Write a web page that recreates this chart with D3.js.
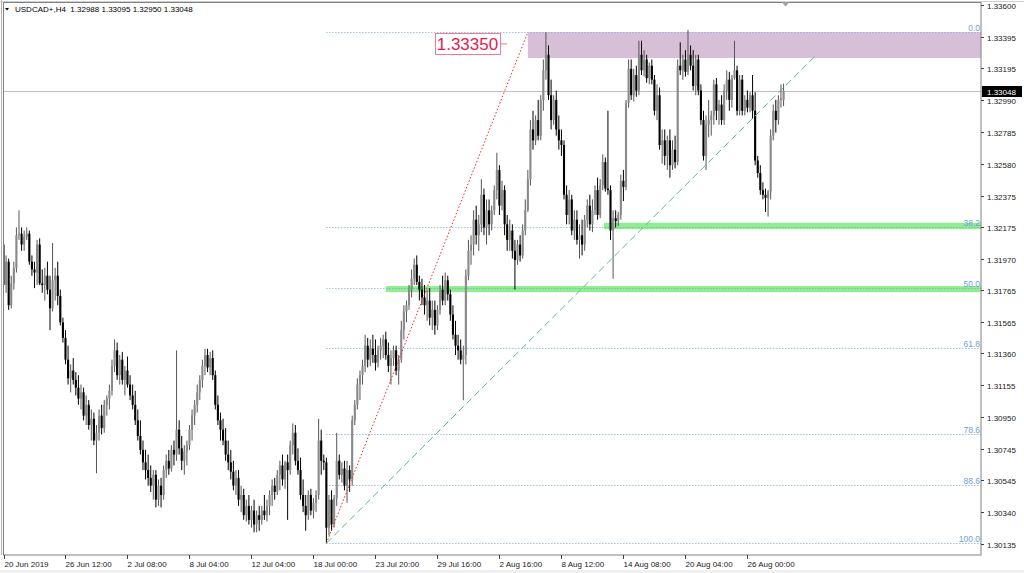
<!DOCTYPE html>
<html><head><meta charset="utf-8">
<script src="https://cdnjs.cloudflare.com/ajax/libs/d3/7.8.5/d3.min.js"></script>
<style>html,body{margin:0;padding:0;background:#fff;overflow:hidden}</style>
</head><body>
<svg id="c" width="1024" height="573"></svg>
<script>
const headerText = "USDCAD+,H4  1.32988 1.33095 1.32950 1.33048";

const open = [
1.3206,1.3180,1.3195,1.3167,1.3181,1.3191,1.3212,1.3213,1.3206,1.3211,
1.3213,1.3195,1.3190,1.3188,1.3206,1.3181,1.3180,1.3186,1.3177,1.3165,
1.3183,1.3186,1.3173,1.3156,1.3146,1.3132,1.3120,1.3125,1.3119,1.3114,
1.3107,1.3111,1.3096,1.3103,1.3090,1.3094,1.3080,1.3085,1.3096,1.3088,
1.3103,1.3107,1.3112,1.3128,1.3138,1.3122,1.3132,1.3119,1.3125,1.3116,
1.3109,1.3103,1.3093,1.3083,1.3074,1.3066,1.3061,1.3056,1.3051,1.3058,
1.3042,1.3051,1.3045,1.3061,1.3067,1.3062,1.3074,1.3071,1.3087,1.3075,
1.3067,1.3073,1.3077,1.3087,1.3096,1.3103,1.3111,1.3119,1.3128,1.3135,
1.3127,1.3133,1.3122,1.3103,1.3093,1.3087,1.3080,1.3071,1.3066,1.3060,
1.3051,1.3056,1.3042,1.3045,1.3032,1.3038,1.3029,1.3035,1.3026,1.3032,
1.3029,1.3035,1.3032,1.3038,1.3045,1.3051,1.3047,1.3058,1.3064,1.3055,
1.3066,1.3061,1.3077,1.3085,1.3067,1.3061,1.3045,1.3038,1.3032,1.3045,
1.3035,1.3040,1.3045,1.3080,1.3067,1.3066,1.3024,1.3042,1.3026,1.3043,
1.3067,1.3058,1.3062,1.3051,1.3061,1.3055,1.3093,1.3103,1.3116,1.3122,
1.3128,1.3141,1.3132,1.3139,1.3135,1.3130,1.3138,1.3141,1.3145,1.3135,
1.3128,1.3133,1.3138,1.3125,1.3132,1.3151,1.3163,1.3167,1.3177,1.3184,
1.3193,1.3182,1.3177,1.3172,1.3167,1.3170,1.3159,1.3164,1.3154,1.3164,
1.3177,1.3170,1.3183,1.3174,1.3161,1.3148,1.3141,1.3138,1.3132,1.3135,
1.3186,1.3202,1.3206,1.3222,1.3212,1.3219,1.3238,1.3217,1.3228,1.3219,
1.3228,1.3241,1.3254,1.3231,1.3241,1.3219,1.3209,1.3215,1.3202,1.3196,
1.3206,1.3199,1.3215,1.3228,1.3248,1.3280,1.3273,1.3286,1.3276,1.3299,
1.3318,1.3328,1.3302,1.3286,1.3299,1.3280,1.3273,1.3270,1.3238,1.3225,
1.3235,1.3215,1.3222,1.3209,1.3212,1.3206,1.3222,1.3231,1.3219,1.3228,
1.3241,1.3225,1.3244,1.3259,1.3242,1.3241,1.3215,1.3223,1.3221,1.3225,
1.3247,1.3243,1.3297,1.3319,1.3302,1.3315,1.3305,1.3328,1.3318,1.3325,
1.3313,1.3321,1.3312,1.3292,1.3302,1.3270,1.3273,1.3263,1.3273,1.3257,
1.3267,1.3259,1.3321,1.3318,1.3325,1.3317,1.3328,1.3321,1.3308,1.3325,
1.3305,1.3286,1.3263,1.3283,1.3286,1.3289,1.3309,1.3292,1.3296,1.3286,
1.3305,1.3312,1.3299,1.3313,1.3318,1.3292,1.3312,1.3292,1.3299,1.3294,
1.3302,1.3292,1.3260,1.3252,1.3241,1.3238,1.3236,1.3240,1.3276,1.3292,
1.3286,1.3299,1.32988];

const high = [
1.3220,1.3199,1.3197,1.3186,1.3195,1.3217,1.3228,1.3217,1.3215,1.3217,
1.3215,1.3199,1.3195,1.3209,1.3210,1.3190,1.3191,1.3195,1.3186,1.3207,
1.3191,1.3195,1.3177,1.3159,1.3151,1.3141,1.3129,1.3133,1.3124,1.3122,
1.3116,1.3114,1.3109,1.3106,1.3100,1.3098,1.3090,1.3100,1.3103,1.3106,
1.3109,1.3116,1.3132,1.3145,1.3143,1.3135,1.3137,1.3128,1.3134,1.3122,
1.3116,1.3112,1.3100,1.3093,1.3080,1.3074,1.3071,1.3064,1.3061,1.3061,
1.3055,1.3056,1.3064,1.3071,1.3074,1.3077,1.3080,1.3138,1.3093,1.3083,
1.3077,1.3080,1.3090,1.3100,1.3106,1.3116,1.3122,1.3132,1.3139,1.3139,
1.3137,1.3138,1.3125,1.3109,1.3098,1.3094,1.3088,1.3080,1.3074,1.3067,
1.3061,1.3061,1.3051,1.3049,1.3042,1.3045,1.3038,1.3042,1.3035,1.3038,
1.3038,1.3045,1.3042,1.3048,1.3055,1.3056,1.3061,1.3067,1.3071,1.3067,
1.3071,1.3080,1.3091,1.3090,1.3075,1.3069,1.3055,1.3045,1.3048,1.3049,
1.3043,1.3048,1.3094,1.3087,1.3071,1.3069,1.3045,1.3048,1.3045,1.3085,
1.3071,1.3066,1.3067,1.3067,1.3064,1.3096,1.3106,1.3120,1.3125,1.3132,
1.3148,1.3146,1.3145,1.3148,1.3145,1.3141,1.3146,1.3148,1.3150,1.3143,
1.3138,1.3141,1.3141,1.3135,1.3157,1.3167,1.3170,1.3180,1.3190,1.3197,
1.3199,1.3186,1.3184,1.3180,1.3177,1.3178,1.3170,1.3170,1.3167,1.3180,
1.3186,1.3188,1.3186,1.3177,1.3167,1.3157,1.3148,1.3145,1.3141,1.3190,
1.3209,1.3212,1.3228,1.3231,1.3225,1.3248,1.3242,1.3235,1.3235,1.3231,
1.3244,1.3265,1.3257,1.3247,1.3244,1.3225,1.3222,1.3219,1.3209,1.3209,
1.3212,1.3219,1.3235,1.3254,1.3286,1.3292,1.3289,1.3299,1.3302,1.3325,
1.33425,1.3334,1.3312,1.3302,1.3305,1.3289,1.3280,1.3273,1.3244,1.3241,
1.3238,1.3228,1.3228,1.3219,1.3222,1.3225,1.3235,1.3238,1.3235,1.3244,
1.3249,1.3248,1.3264,1.3262,1.3292,1.3244,1.3228,1.3228,1.3227,1.3251,
1.3254,1.3299,1.3325,1.3325,1.3319,1.3321,1.3337,1.3337,1.3331,1.3328,
1.3323,1.3325,1.3315,1.3309,1.3307,1.3280,1.3280,1.3276,1.3280,1.3273,
1.3276,1.3325,1.3336,1.3328,1.3331,1.3344,1.3334,1.3331,1.3328,1.3328,
1.3309,1.3292,1.3289,1.3299,1.3292,1.3312,1.3313,1.3299,1.3302,1.3309,
1.3318,1.3317,1.3315,1.3337,1.3321,1.3315,1.3315,1.3302,1.3305,1.3304,
1.3315,1.3304,1.3263,1.3257,1.3246,1.3242,1.3241,1.3280,1.3296,1.3299,
1.3302,1.3309,1.33095];

const low = [
1.3174,1.3175,1.3164,1.3165,1.3177,1.3188,1.3209,1.3202,1.3202,1.3209,
1.3193,1.3186,1.3178,1.3180,1.3180,1.3175,1.3170,1.3174,1.3151,1.3163,
1.3170,1.3167,1.3154,1.3143,1.3129,1.3116,1.3111,1.3116,1.3109,1.3103,
1.3100,1.3093,1.3090,1.3087,1.3080,1.3077,1.3059,1.3080,1.3084,1.3085,
1.3096,1.3100,1.3109,1.3124,1.3119,1.3116,1.3116,1.3109,1.3114,1.3106,
1.3100,1.3090,1.3080,1.3071,1.3061,1.3055,1.3051,1.3047,1.3042,1.3037,
1.3038,1.3037,1.3042,1.3056,1.3058,1.3060,1.3064,1.3067,1.3071,1.3061,
1.3058,1.3064,1.3074,1.3080,1.3090,1.3098,1.3106,1.3114,1.3122,1.3124,
1.3122,1.3119,1.3100,1.3090,1.3080,1.3077,1.3067,1.3061,1.3055,1.3048,
1.3045,1.3038,1.3034,1.3029,1.3028,1.3026,1.3024,1.3021,1.3021,1.3022,
1.3026,1.3029,1.3028,1.3032,1.3038,1.3042,1.3045,1.3048,1.3051,1.3049,
1.3029,1.3058,1.3071,1.3064,1.3058,1.3042,1.3034,1.3022,1.3029,1.3032,
1.3030,1.3034,1.3042,1.3058,1.3061,1.3014,1.3019,1.3022,1.3024,1.3038,
1.3055,1.3053,1.3048,1.3040,1.3047,1.3051,1.3090,1.3100,1.3106,1.3116,
1.3124,1.3127,1.3128,1.3130,1.3125,1.3127,1.3132,1.3133,1.3132,1.3124,
1.3116,1.3128,1.3122,1.3116,1.3130,1.3145,1.3156,1.3164,1.3172,1.3180,
1.3180,1.3170,1.3167,1.3161,1.3157,1.3154,1.3151,1.3148,1.3151,1.3161,
1.3167,1.3167,1.3170,1.3157,1.3145,1.3135,1.3132,1.3129,1.3106,1.3129,
1.3183,1.3193,1.3199,1.3206,1.3202,1.3214,1.3212,1.3206,1.3212,1.3215,
1.3225,1.3235,1.3225,1.3228,1.3212,1.3202,1.3202,1.3197,1.3177,1.3193,
1.3195,1.3197,1.3212,1.3227,1.3244,1.3267,1.3270,1.3273,1.3273,1.3292,
1.3312,1.3299,1.3280,1.3283,1.3276,1.3267,1.3263,1.3235,1.3219,1.3219,
1.3212,1.3209,1.3206,1.3197,1.3199,1.3202,1.3217,1.3215,1.3214,1.3225,
1.3222,1.3223,1.3241,1.3240,1.3238,1.3209,1.3184,1.3217,1.3218,1.3222,
1.3234,1.3241,1.3294,1.3299,1.3298,1.3301,1.3302,1.3315,1.3314,1.3310,
1.3309,1.3309,1.3289,1.3286,1.3267,1.3258,1.3257,1.3254,1.3249,1.3254,
1.3255,1.3257,1.3315,1.3312,1.3314,1.3315,1.3318,1.3305,1.3302,1.3302,
1.3283,1.3260,1.3254,1.3275,1.3276,1.3283,1.3286,1.3283,1.3283,1.3283,
1.3299,1.3292,1.3294,1.3312,1.3289,1.3289,1.3289,1.3289,1.3291,1.3291,
1.3287,1.3257,1.3249,1.3238,1.3235,1.3227,1.3224,1.3235,1.3273,1.3278,
1.3283,1.3294,1.32950];

const close = [
1.3180,1.3195,1.3167,1.3181,1.3191,1.3212,1.3213,1.3206,1.3211,1.3213,
1.3195,1.3190,1.3188,1.3206,1.3181,1.3180,1.3186,1.3177,1.3165,1.3183,
1.3186,1.3173,1.3156,1.3146,1.3132,1.3120,1.3125,1.3119,1.3114,1.3107,
1.3111,1.3096,1.3103,1.3090,1.3094,1.3080,1.3085,1.3096,1.3088,1.3103,
1.3107,1.3112,1.3128,1.3138,1.3122,1.3132,1.3119,1.3125,1.3116,1.3109,
1.3103,1.3093,1.3083,1.3074,1.3066,1.3061,1.3056,1.3051,1.3058,1.3042,
1.3051,1.3045,1.3061,1.3067,1.3062,1.3074,1.3071,1.3087,1.3075,1.3067,
1.3073,1.3077,1.3087,1.3096,1.3103,1.3111,1.3119,1.3128,1.3135,1.3127,
1.3133,1.3122,1.3103,1.3093,1.3087,1.3080,1.3071,1.3066,1.3060,1.3051,
1.3056,1.3042,1.3045,1.3032,1.3038,1.3029,1.3035,1.3026,1.3032,1.3029,
1.3035,1.3032,1.3038,1.3045,1.3051,1.3047,1.3058,1.3064,1.3055,1.3066,
1.3061,1.3077,1.3085,1.3067,1.3061,1.3045,1.3038,1.3032,1.3045,1.3035,
1.3040,1.3045,1.3080,1.3067,1.3066,1.3024,1.3042,1.3026,1.3043,1.3067,
1.3058,1.3062,1.3051,1.3061,1.3055,1.3093,1.3103,1.3116,1.3122,1.3128,
1.3141,1.3132,1.3139,1.3135,1.3130,1.3138,1.3141,1.3145,1.3135,1.3128,
1.3133,1.3138,1.3125,1.3132,1.3151,1.3163,1.3167,1.3177,1.3184,1.3193,
1.3182,1.3177,1.3172,1.3167,1.3170,1.3159,1.3164,1.3154,1.3164,1.3177,
1.3170,1.3183,1.3174,1.3161,1.3148,1.3141,1.3138,1.3132,1.3135,1.3186,
1.3202,1.3206,1.3222,1.3212,1.3219,1.3238,1.3217,1.3228,1.3219,1.3228,
1.3241,1.3254,1.3231,1.3241,1.3219,1.3209,1.3215,1.3202,1.3196,1.3206,
1.3199,1.3215,1.3228,1.3248,1.3280,1.3273,1.3286,1.3276,1.3299,1.3318,
1.3328,1.3302,1.3286,1.3299,1.3280,1.3273,1.3270,1.3238,1.3225,1.3235,
1.3215,1.3222,1.3209,1.3212,1.3206,1.3222,1.3231,1.3219,1.3228,1.3241,
1.3225,1.3244,1.3259,1.3242,1.3241,1.3215,1.3223,1.3221,1.3225,1.3247,
1.3243,1.3297,1.3319,1.3302,1.3315,1.3305,1.3328,1.3318,1.3325,1.3313,
1.3321,1.3312,1.3292,1.3302,1.3270,1.3273,1.3263,1.3273,1.3257,1.3267,
1.3259,1.3321,1.3318,1.3325,1.3317,1.3328,1.3321,1.3308,1.3325,1.3305,
1.3286,1.3263,1.3283,1.3286,1.3289,1.3309,1.3292,1.3296,1.3286,1.3305,
1.3312,1.3299,1.3313,1.3318,1.3292,1.3312,1.3292,1.3299,1.3294,1.3302,
1.3292,1.3260,1.3252,1.3241,1.3238,1.3236,1.3240,1.3276,1.3292,1.3286,
1.3299,1.3300,1.33048];

const timeLabels = ["20 Jun 2019","26 Jun 12:00","2 Jul 08:00","8 Jul 04:00","12 Jul 04:00","18 Jul 00:00","23 Jul 20:00","29 Jul 16:00","2 Aug 16:00","8 Aug 12:00","14 Aug 08:00","20 Aug 04:00","26 Aug 00:00"];
const timeLabelBars = [0,24,48,72,96,120,144,168,192,216,240,264,288];
const priceTicks = [1.33600,1.33395,1.33195,1.32990,1.32785,1.32580,1.32375,1.32175,1.31970,1.31765,1.31565,1.31360,1.31155,1.30950,1.30745,1.30545,1.30340,1.30135];

const fibLevels = [0, 38.2, 50, 61.8, 78.6, 88.6, 100];
const fibBars = [125, 203];
const fibPrices = [1.30140, 1.33425];
const trendBars = [125, 314];
const trendPrices = [1.30140, 1.33268];
const zoneBar = 203;
const zonePrices = [1.33425, 1.33259];
const bandBars = [232.5, 148];
const bandTops = [1.32200, 1.31793];
const bandBottoms = [1.32159, 1.31754];
const noteValue = 1.33350;
const noteBar = 195;
const lastPrice = 1.33048;
const visibleBars = 378;

const svg = d3.select("#c");
const L = 3, T = 3, R = 981, B = 555;
const x = d3.scaleLinear().domain([0, visibleBars]).range([3.5, 3.5 + visibleBars * 2.583]);
const y = d3.scaleLinear().domain([1.30135, 1.33600]).range([544, 5]);
const FONT = "'Liberation Sans', Arial, sans-serif";

svg.append("rect").attr("width",1024).attr("height",573).attr("fill","#fff");
svg.append("rect").attr("x",0).attr("y",570).attr("width",1024).attr("height",3).attr("fill","#f0f0f0");

svg.append("defs").append("clipPath").attr("id","clip")
  .append("rect").attr("x",L).attr("y",T).attr("width",R-L).attr("height",B-T);
const plot = svg.append("g").attr("clip-path","url(#clip)");

// zone and bands
plot.append("rect").attr("x", x(zoneBar)).attr("y", y(zonePrices[0]))
  .attr("width", R - x(zoneBar)).attr("height", y(zonePrices[1]) - y(zonePrices[0]))
  .attr("fill", "#d8bfd8");
bandBars.forEach((b,i)=>{
  plot.append("rect").attr("x", x(b)).attr("y", y(bandTops[i]))
    .attr("width", R - x(b)).attr("height", y(bandBottoms[i]) - y(bandTops[i]))
    .attr("fill", "#90ee90");
});

// fib levels
const fibRange = fibPrices[1] - fibPrices[0];
fibLevels.forEach(lv=>{
  const p = fibPrices[1] - fibRange * lv / 100;
  const yy = Math.round(y(p)) + 0.5;
  plot.append("line").attr("x1", x(fibBars[0])).attr("x2", R).attr("y1", yy).attr("y2", yy)
    .attr("stroke", "#6f9fd6").attr("stroke-width", 1).attr("stroke-dasharray", "1,2");
  svg.append("text").attr("x", 980).attr("y", yy - 1.5).attr("text-anchor","end")
    .attr("font-family", FONT).attr("font-size", 8.5).attr("fill", "#6f9fd6")
    .text(d3.format(".1f")(lv));
});

// last price line
plot.append("line").attr("x1", L).attr("x2", R).attr("y1", Math.round(y(lastPrice))+0.5).attr("y2", Math.round(y(lastPrice))+0.5)
  .attr("stroke", "#c0c0c0").attr("stroke-width", 1);

// candles
const bars = d3.range(close.length);
const cg = plot.append("g");
cg.selectAll("line.w").data(bars).join("line")
  .attr("x1", i => x(i)).attr("x2", i => x(i))
  .attr("y1", i => y(high[i])).attr("y2", i => y(low[i]))
  .attr("stroke", i => close[i] >= open[i] ? "#555" : "#000").attr("stroke-width", 1);
cg.selectAll("rect.b").data(bars).join("rect")
  .attr("x", i => x(i) - 1.05).attr("width", 2.1)
  .attr("y", i => y(Math.max(open[i], close[i])))
  .attr("height", i => Math.max(1, Math.abs(y(open[i]) - y(close[i]))))
  .attr("fill", i => close[i] >= open[i] ? "#8a8a8a" : "#000");

// trend lines
plot.append("line").attr("x1", x(fibBars[0])).attr("y1", y(fibPrices[0]))
  .attr("x2", x(fibBars[1])).attr("y2", y(fibPrices[1]))
  .attr("stroke", "#ff2020").attr("stroke-width", 1).attr("stroke-dasharray", "1.5,2");
plot.append("line").attr("x1", x(trendBars[0])).attr("y1", y(trendPrices[0]))
  .attr("x2", x(trendBars[1])).attr("y2", y(trendPrices[1]))
  .attr("stroke", "#55bb88").attr("stroke-width", 1).attr("stroke-dasharray", "7,4");

// note label
const nx = x(noteBar), ny = y(noteValue);
svg.append("line").attr("x1", nx - 7).attr("x2", nx).attr("y1", ny).attr("y2", ny).attr("stroke", "#f07a90");
const nt = svg.append("text").attr("x", nx - 9).attr("y", ny + 6.5).attr("text-anchor","end")
  .attr("font-family", FONT).attr("font-size", 17).attr("fill", "#e8194b").text(d3.format(".5f")(noteValue));
const bb = nt.node().getBBox();
svg.insert("rect", "text:last-of-type").attr("x", Math.round(bb.x) - 1.5).attr("y", Math.round(ny) - 10.5)
  .attr("width", Math.round(bb.width) + 4).attr("height", 21).attr("fill", "#fff").attr("stroke", "#f07a90");
nt.raise();

// frame
svg.append("line").attr("x1",1.5).attr("x2",1.5).attr("y1",0).attr("y2",B).attr("stroke","#b0b0b0");
svg.append("line").attr("x1",0).attr("x2",1024).attr("y1",1.5).attr("y2",1.5).attr("stroke","#d0d0d0");
svg.append("rect").attr("x",L+0.5).attr("y",T-0.5).attr("width",R-L-0.5).attr("height",B-T+0.5)
  .attr("fill","none").attr("stroke","#808080");

// y axis
priceTicks.forEach(p=>{
  const yy = Math.round(y(p)) + 0.5;
  svg.append("line").attr("x1", R).attr("x2", R + 3).attr("y1", yy).attr("y2", yy).attr("stroke", "#404040");
  svg.append("text").attr("x", 987).attr("y", yy + 3.5).attr("font-family", FONT).attr("font-size", 8)
    .attr("fill", "#202020").text(d3.format(".5f")(p));
});
// last price tag
const ly = Math.round(y(lastPrice)) + 0.5;
svg.append("rect").attr("x", R + 1).attr("y", ly - 5.5).attr("width", 40).attr("height", 11).attr("fill", "#000");
svg.append("text").attr("x", 987).attr("y", ly + 3).attr("font-family", FONT).attr("font-size", 8)
  .attr("fill", "#fff").text(d3.format(".5f")(lastPrice));

// x axis
timeLabelBars.forEach((b,i)=>{
  const xx = Math.round(x(b)) + 0.5;
  svg.append("line").attr("x1", xx).attr("x2", xx).attr("y1", B).attr("y2", B + 4).attr("stroke", "#404040");
  svg.append("text").attr("x", xx).attr("y", 567).attr("font-family", FONT).attr("font-size", 8)
    .attr("fill", "#202020").text(timeLabels[i]);
});

// header
svg.append("path").attr("d","M5,8 L9,8 L7,10.5 Z").attr("fill","#000");
svg.append("text").attr("x", 15).attr("y", 12).attr("font-family", FONT).attr("font-size", 8)
  .attr("fill", "#000").attr("xml:space","preserve").style("white-space","pre").text(headerText);
// shift marker
const sx = x(close.length - 1) + 2;
svg.append("path").attr("d", `M${sx-4},2 L${sx+4},2 L${sx},6.5 Z`).attr("fill", "#a0a0a0");
</script>
</body></html>
